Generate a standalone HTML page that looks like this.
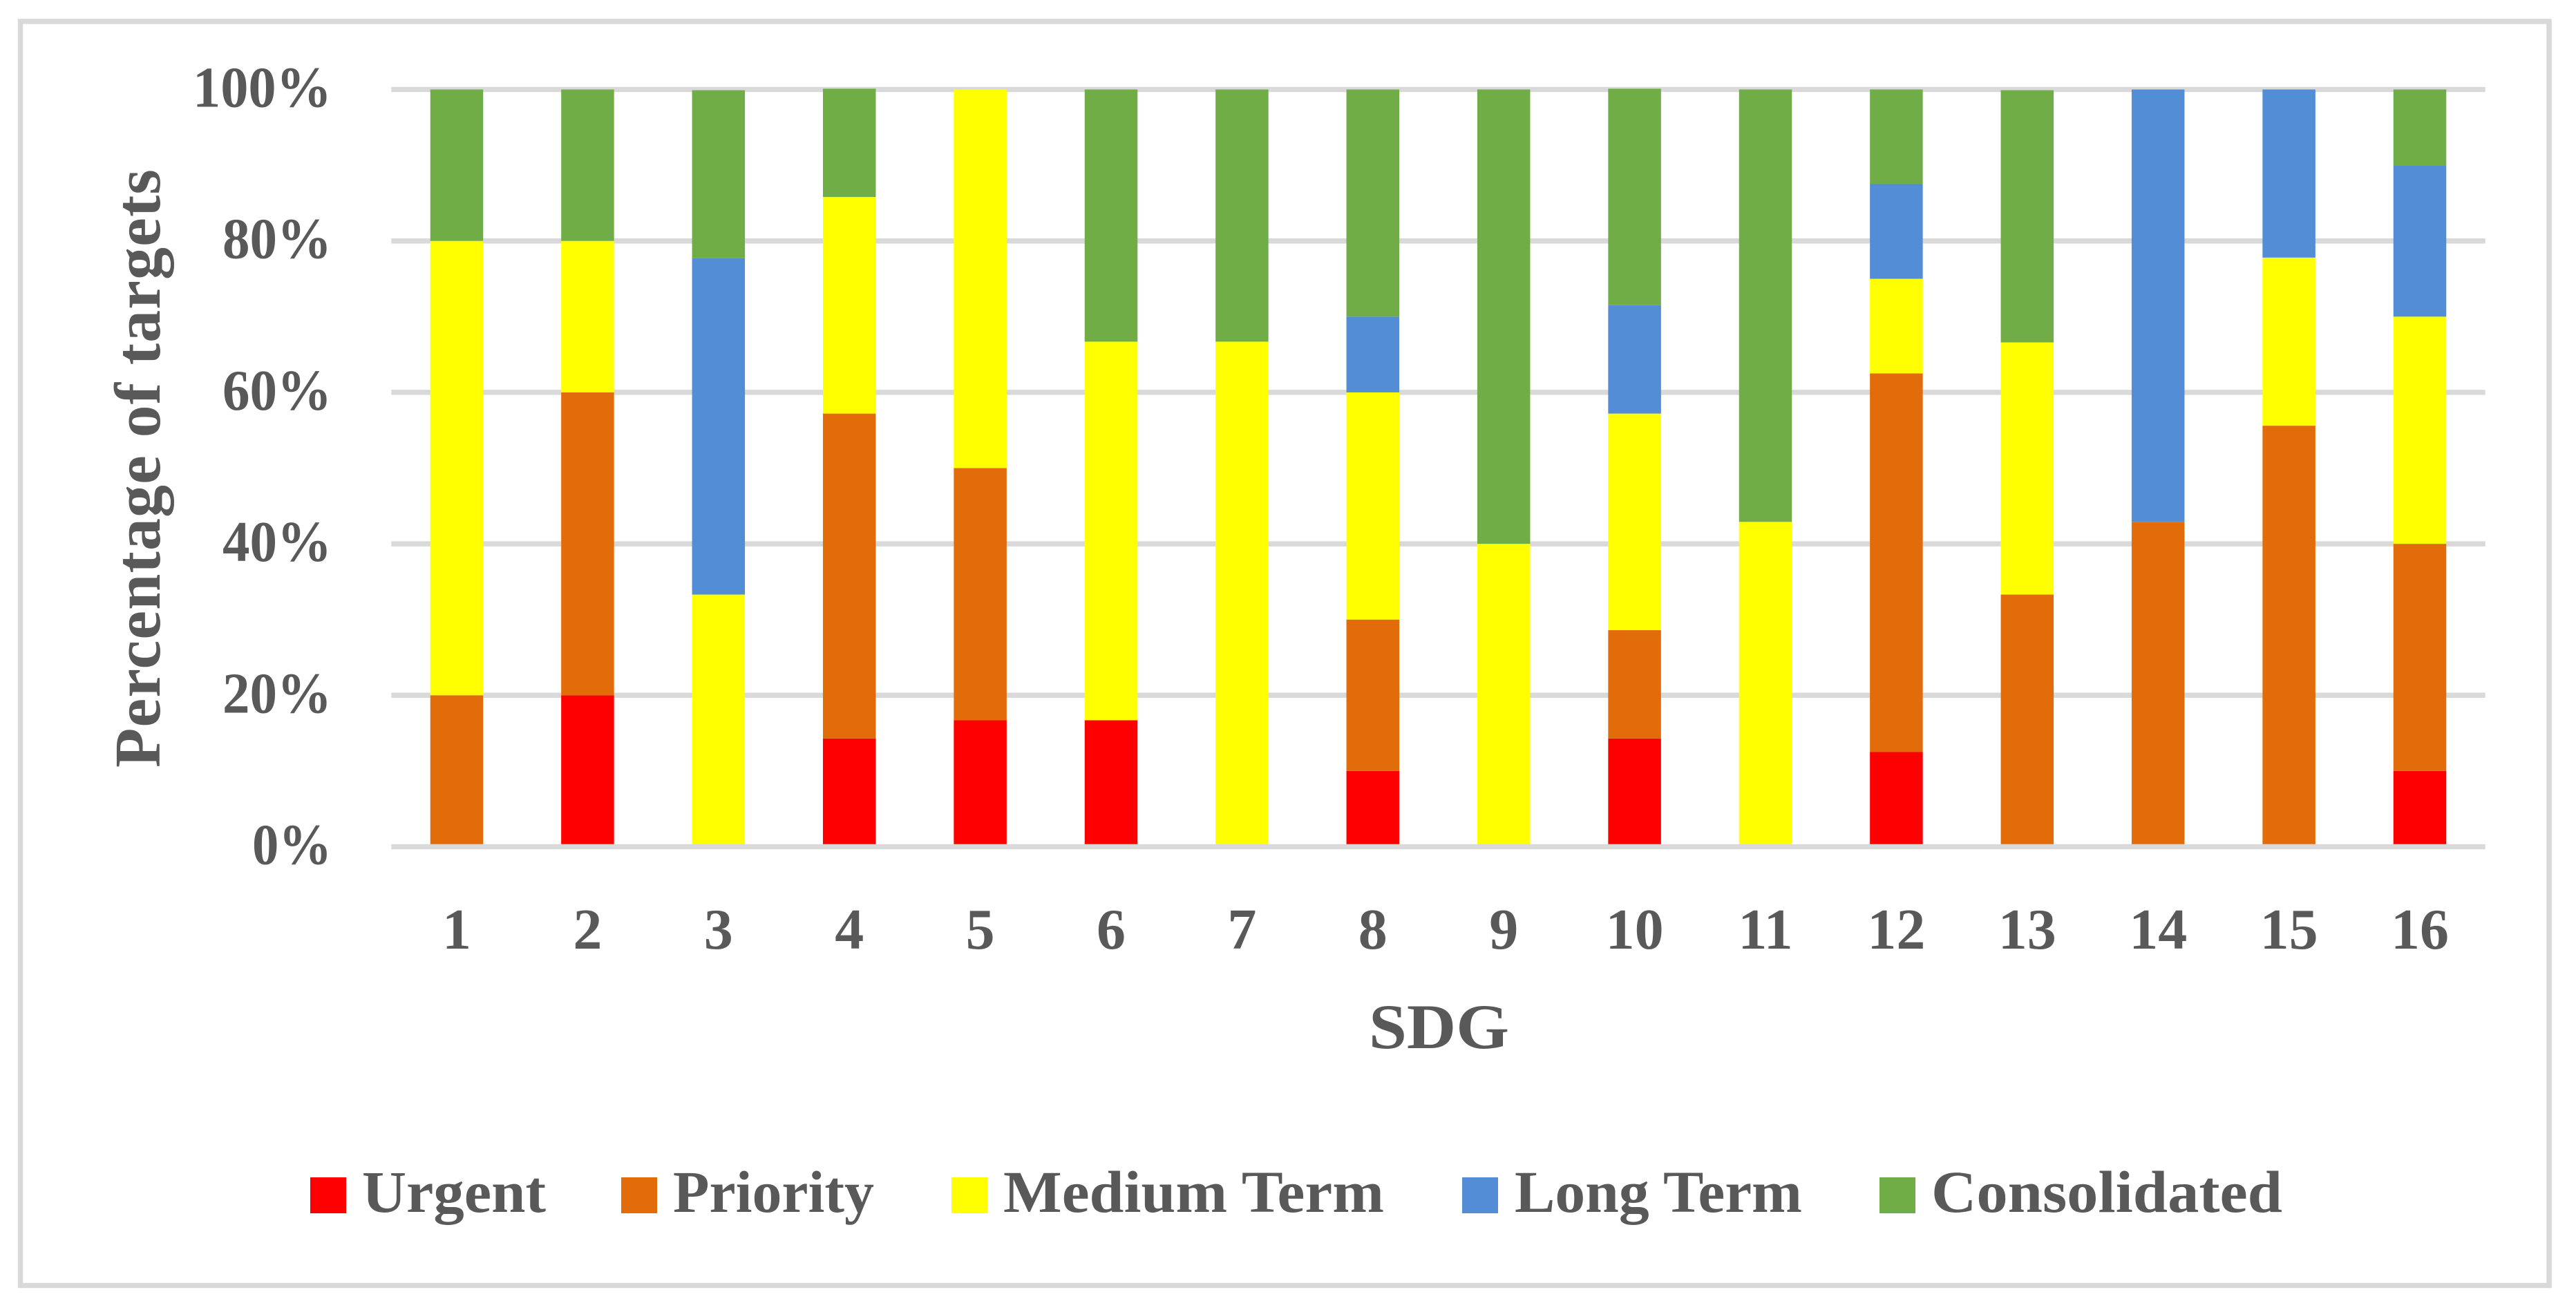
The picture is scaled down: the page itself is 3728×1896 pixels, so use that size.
<!DOCTYPE html>
<html lang="en">
<head>
<meta charset="utf-8">
<title>Percentage of targets by SDG</title>
<style>
html,body{margin:0;padding:0;background:#fff;width:3728px;height:1896px;overflow:hidden}
svg{display:block}
text{font-family:"Liberation Serif",serif;font-weight:700;fill:#595959}
</style>
</head>
<body>
<svg id="chart" xmlns="http://www.w3.org/2000/svg" width="3728" height="1896" viewBox="0 0 3728 1896">
  <rect x="0" y="0" width="3728" height="1896" fill="#fff"/>
  <rect x="29.5" y="31" width="3659.5" height="1829.5" fill="none" stroke="#d9d9d9" stroke-width="7.5"/>
  <g id="grid"></g>
  <g id="bars"></g>
  <g id="axes"></g>
  <text transform="translate(231,678) rotate(-90)" text-anchor="middle" font-size="94" textLength="866" lengthAdjust="spacing">Percentage of targets</text>
  <text x="2082.5" y="1517" text-anchor="middle" font-size="92" textLength="203" lengthAdjust="spacingAndGlyphs">SDG</text>
  <g>
    <g>
      <rect x="449" y="1704" width="52" height="52" fill="#ff0000"/>
      <text x="524" y="1754" font-size="86" textLength="266" lengthAdjust="spacingAndGlyphs">Urgent</text>
    </g>
    <g>
      <rect x="899" y="1704" width="52" height="52" fill="#e36c0a"/>
      <text x="974" y="1754" font-size="86" textLength="291" lengthAdjust="spacingAndGlyphs">Priority</text>
    </g>
    <g>
      <rect x="1377" y="1704" width="52" height="52" fill="#ffff00"/>
      <text x="1452" y="1754" font-size="86" textLength="551" lengthAdjust="spacingAndGlyphs">Medium Term</text>
    </g>
    <g>
      <rect x="2116" y="1704" width="52" height="52" fill="#528dd6"/>
      <text x="2192" y="1754" font-size="86" textLength="416" lengthAdjust="spacingAndGlyphs">Long Term</text>
    </g>
    <g>
      <rect x="2720" y="1704" width="52" height="52" fill="#70ad47"/>
      <text x="2795" y="1754" font-size="86" textLength="508" lengthAdjust="spacingAndGlyphs">Consolidated</text>
    </g>
  </g>
</svg>
<script>
const categories = ['1','2','3','4','5','6','7','8','9','10','11','12','13','14','15','16'];
const urgent       = [0,20,0,14.3,16.7,16.7,0,10,0,14.3,0,12.5,0,0,0,10];
const priority     = [20,40,0,42.9,33.3,0,0,20,0,14.3,0,50,33.3,42.9,55.6,30];
const mediumTerm   = [60,20,33.3,28.6,50,50,66.7,30,40,28.6,42.9,12.5,33.3,0,22.2,30];
const longTerm     = [0,0,44.4,0,0,0,0,10,0,14.3,0,12.5,0,57.1,22.2,20];
const consolidated = [20,20,22.2,14.3,0,33.3,33.3,30,60,28.6,57.1,12.5,33.3,0,0,10];
const yTicks = [0,20,40,60,80,100];

const NS = 'http://www.w3.org/2000/svg';
const plotLeft = 566.3, bandWidth = 189.4, barWidth = 76.5;
const plotTop = 129.5, plotBottom = 1225.5;
const plotRight = plotLeft + bandWidth * categories.length;
function xCenter(i) { return plotLeft + bandWidth * (i + 0.5); }
function yScale(v) { return plotBottom - (plotBottom - plotTop) * v / 100; }

function make(tag, parent) {
  const el = document.createElementNS(NS, tag);
  parent.appendChild(el);
  return el;
}

const gridLayer = document.getElementById('grid');
const barLayer = document.getElementById('bars');
const axisLayer = document.getElementById('axes');

yTicks.forEach(function (t) {
  if (t !== 0) {
    const line = make('line', gridLayer);
    
    
    line.setAttribute('x1', plotLeft);
    line.setAttribute('x2', plotRight);
    line.setAttribute('y1', yScale(t));
    line.setAttribute('y2', yScale(t));
    line.setAttribute('stroke', '#d9d9d9');
    line.setAttribute('stroke-width', '7.5');
  }
  const label = make('text', axisLayer);
  
  
  label.setAttribute('x', 480);
  label.setAttribute('y', yScale(t) + 25);
  label.setAttribute('text-anchor', 'end');
  label.setAttribute('font-size', '84');
  label.setAttribute('textLength', String(t).length * 43 + 72);
  label.setAttribute('lengthAdjust', 'spacingAndGlyphs');
  label.textContent = t + '%';
});

const stackOrder = [
  { key: 'urgent', values: urgent, color: '#ff0000' },
  { key: 'priority', values: priority, color: '#e36c0a' },
  { key: 'medium-term', values: mediumTerm, color: '#ffff00' },
  { key: 'long-term', values: longTerm, color: '#528dd6' },
  { key: 'consolidated', values: consolidated, color: '#70ad47' }
];

categories.forEach(function (cat, i) {
  let base = 0;
  stackOrder.forEach(function (series) {
    const v = series.values[i];
    if (v > 0) {
      const top = yScale(base + v);
      const bar = make('rect', barLayer);
      
      
      bar.setAttribute('x', xCenter(i) - barWidth / 2);
      bar.setAttribute('y', top);
      bar.setAttribute('width', barWidth);
      bar.setAttribute('height', yScale(base) - top);
      bar.setAttribute('fill', series.color);
    }
    base += v;
  });
  const tick = make('text', axisLayer);
  
  
  tick.setAttribute('x', xCenter(i));
  tick.setAttribute('y', 1373);
  tick.setAttribute('text-anchor', 'middle');
  tick.setAttribute('font-size', '84');
  tick.textContent = cat;
});

const axisLine = make('line', axisLayer);


axisLine.setAttribute('x1', plotLeft);
axisLine.setAttribute('x2', plotRight);
axisLine.setAttribute('y1', plotBottom);
axisLine.setAttribute('y2', plotBottom);
axisLine.setAttribute('stroke', '#d9d9d9');
axisLine.setAttribute('stroke-width', '7.5');
</script>
</body>
</html>
